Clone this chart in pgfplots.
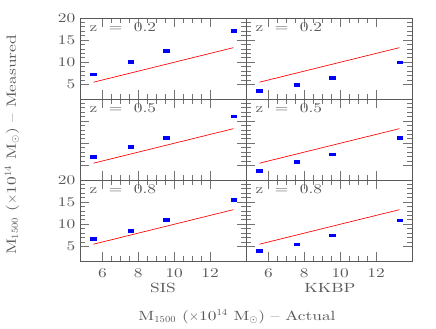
\documentclass[border=0pt]{standalone}
\usepackage{fontspec}
\setmainfont{Latin Modern Roman}[FakeStretch=1.3]
\usepackage{pgfplots}
\pgfplotsset{compat=1.18}
\definecolor{fg}{gray}{0.35}
\definecolor{tk}{gray}{0.45}
\pgfplotsset{
  panel/.style={
    scale only axis, width=124.5pt, height=60.75pt,
    xmin=4.75, xmax=14, ymin=1.7, ymax=20,
    xtick={6,8,10,12}, ytick={5,10,15,20},
    minor x tick num=3, minor y tick num=4,
    tick align=inside, major tick length=6.5pt, minor tick length=3.5pt,
    axis line style={fg, line width=0.5pt},
    tick style={tk, line width=0.6pt},
    tick label style={fg, font=\fontsize{10}{12}\selectfont},
    /pgf/number format/assume math mode=true,
    xticklabel style={yshift=-2pt},
    anchor=north west, clip=false,
    xticklabels=\empty, yticklabels=\empty,
  },
  pts/.style={only marks, mark=square*, blue, mark size=1.05pt, mark options={xscale=2, draw=none, fill=blue}},
  redline/.style={red, line width=0.5pt, no marks},
}
\newcommand{\zlab}[1]{\node[anchor=north west, fg, inner sep=0pt, font=\fontsize{10}{12}\selectfont] at (rel axis cs:0,1) [xshift=7pt,yshift=-3pt] {z\ \ =\ \ #1};}
\begin{document}
\begin{tikzpicture}
\path (0,0) rectangle (327pt,-245.25pt);
% row 1
\begin{axis}[panel, at={(60pt,-13.5pt)}, yticklabels={5,10,15,20}]
\addplot[redline] coordinates {(5.5,5.5) (13.3,13.3)};
\addplot[pts] coordinates {(5.49,7.3) (7.58,10.2) (9.57,12.6) (13.32,17.2)};
\zlab{0.2}
\end{axis}
\begin{axis}[panel, at={(184.5pt,-13.5pt)}]
\addplot[redline] coordinates {(5.5,5.5) (13.3,13.3)};
\addplot[pts] coordinates {(5.49,3.5) (7.58,5.0) (9.57,6.5) (13.32,10.0)};
\zlab{0.2}
\end{axis}
% row 2
\begin{axis}[panel, at={(60pt,-74.25pt)}]
\addplot[redline] coordinates {(5.5,5.5) (13.3,13.3)};
\addplot[pts] coordinates {(5.49,6.9) (7.58,9.2) (9.57,11.3) (13.32,16.1)};
\zlab{0.5}
\end{axis}
\begin{axis}[panel, at={(184.5pt,-74.25pt)}]
\addplot[redline] coordinates {(5.5,5.5) (13.3,13.3)};
\addplot[pts] coordinates {(5.49,3.8) (7.58,5.85) (9.57,7.5) (13.32,11.2)};
\zlab{0.5}
\end{axis}
% row 3
\begin{axis}[panel, at={(60pt,-135pt)}, yticklabels={5,10,15,20}, xticklabels={6,8,10,12}]
\addplot[redline] coordinates {(5.5,5.5) (13.3,13.3)};
\addplot[pts] coordinates {(5.49,6.7) (7.58,8.6) (9.57,11.0) (13.32,15.6)};
\zlab{0.8}
\end{axis}
\begin{axis}[panel, at={(184.5pt,-135pt)}, xticklabels={6,8,10,12}]
\addplot[redline] coordinates {(5.5,5.5) (13.3,13.3)};
\addplot[pts] coordinates {(5.49,4.0) (7.58,5.5) (9.57,7.5) (13.32,10.9)};
\zlab{0.8}
\end{axis}
\node[fg, font=\fontsize{10}{12}\selectfont] at (122.25pt,-216pt) {SIS};
\node[fg, font=\fontsize{10}{12}\selectfont] at (247.5pt,-216pt) {KKBP};
\node[fg, font=\fontsize{10}{12}\selectfont] at (177.75pt,-237.75pt) {M$_{1500}$ ($\times$10$^{14}$ M$_\odot$) -- Actual};
\node[fg, rotate=90, font=\fontsize{10}{12}\selectfont] at (9pt,-108.75pt) {M$_{1500}$ ($\times$10$^{14}$ M$_\odot$) -- Measured};
\end{tikzpicture}
\end{document}
